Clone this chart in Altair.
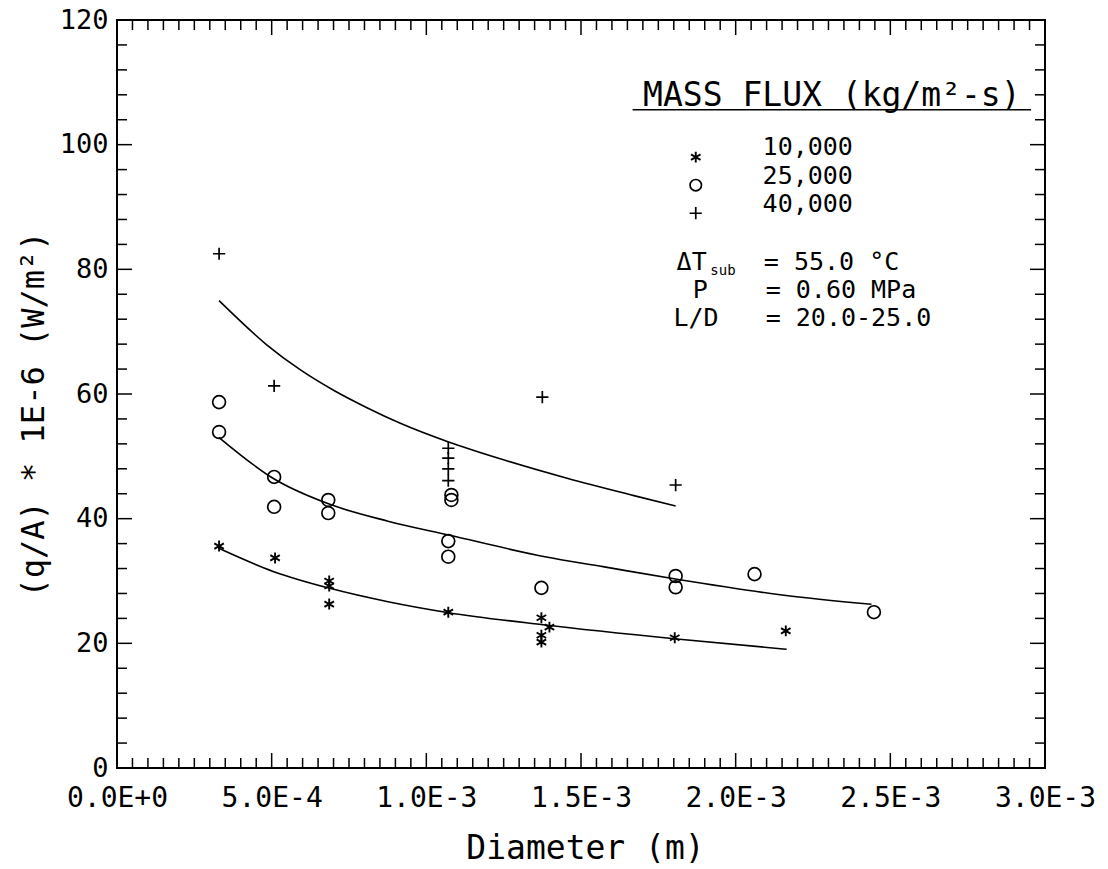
import altair as alt
import pandas as pd

FONT = "DejaVu Sans Mono"

# ---------------- data ----------------
# Mass flux 10,000 (asterisks)
d10 = [0.330e-3, 0.511e-3, 0.686e-3, 0.686e-3, 0.686e-3, 1.071e-3, 1.372e-3, 1.398e-3,
       1.372e-3, 1.372e-3, 1.803e-3, 2.162e-3]
q10 = [35.6, 33.7, 30.0, 29.2, 26.3, 25.0, 24.1, 22.6, 21.3, 20.2, 20.9, 22.0]

# Mass flux 25,000 (circles)
d25 = [0.330e-3, 0.330e-3, 0.508e-3, 0.508e-3, 0.683e-3, 0.683e-3, 1.081e-3, 1.081e-3,
       1.071e-3, 1.071e-3, 1.372e-3, 1.806e-3, 1.806e-3, 2.061e-3, 2.447e-3]
q25 = [58.7, 53.9, 46.7, 41.9, 43.0, 40.9, 43.8, 43.0, 36.4, 33.9, 28.9, 30.8, 29.0, 31.1, 25.0]

# Mass flux 40,000 (plus signs)
d40 = [0.330e-3, 0.508e-3, 1.071e-3, 1.071e-3, 1.071e-3, 1.071e-3, 1.375e-3, 1.806e-3]
q40 = [82.5, 61.3, 51.3, 49.7, 48.0, 46.1, 59.5, 45.4]

# fitted curves
c10_d = [0.329e-3, 0.507e-3, 0.688e-3, 0.876e-3, 1.072e-3, 1.383e-3, 1.810e-3, 2.165e-3]
c10_q = [35.25, 31.50, 28.83, 26.68, 24.92, 22.94, 20.70, 19.05]

c25_d = [0.329e-3, 0.507e-3, 0.688e-3, 0.876e-3, 1.072e-3, 1.383e-3, 1.571e-3, 1.810e-3,
         2.150e-3, 2.439e-3]
c25_q = [53.06, 46.40, 42.30, 39.60, 37.38, 33.90, 32.30, 30.27, 27.76, 26.26]

c40_d = [0.330e-3, 0.484e-3, 0.592e-3, 0.700e-3, 0.808e-3, 0.916e-3, 1.072e-3, 1.239e-3,
         1.455e-3, 1.671e-3, 1.806e-3]
c40_q = [74.97, 67.90, 63.90, 60.60, 57.80, 55.30, 52.30, 49.60, 46.48, 43.70, 42.03]

series_labels = ["10,000", "25,000", "40,000"]
legend_title = "MASS FLUX (kg/m²-s)"
cond_left = ["ΔT", "P", "L/D"]
cond_right = ["= 55.0 °C", "= 0.60 MPa", "= 20.0-25.0"]

x_major = [0.0, 0.5e-3, 1.0e-3, 1.5e-3, 2.0e-3, 2.5e-3, 3.0e-3]
y_major = [0, 20, 40, 60, 80, 100, 120]
x_minor = [i * 0.05e-3 for i in range(1, 60) if i % 10 != 0]
y_minor = [v for v in range(4, 120, 4) if v % 20 != 0]

# ---------------- layout ----------------
W, H = 928, 748
XS = alt.Scale(domain=[0, 0.003], nice=False, zero=False)
YS = alt.Scale(domain=[0, 120], nice=False, zero=False)

XAX = alt.Axis(
    values=x_major, ticks=False, domain=False, grid=False,
    labelExpr="replace(replace(upper(format(datum.value, '.1e')), '\u2212', '-'), 'E-0', 'E-')",
    labelFont=FONT, labelFontSize=28, labelColor="black", labelPadding=16,
    labelFlush=False, labelOverlap=False,
    title="Diameter (m)", titleFont=FONT, titleFontSize=33, titleFontWeight="normal",
    titleColor="black", titleX=468, titleY=80, titleBaseline="middle")
YAX = alt.Axis(
    values=y_major, ticks=False, domain=False, grid=False,
    labelFont=FONT, labelFontSize=27, labelColor="black", labelPadding=9,
    labelFlush=False, labelOverlap=False,
    title="(q/A) * 1E-6 (W/m²)", titleFont=FONT, titleFontSize=32,
    titleFontWeight="normal", titleColor="black", titleX=-84, titleY=H / 2 + 20,
    titleBaseline="middle", titleAngle=270)


def X(field):
    return alt.X(field, scale=XS, axis=XAX)


def Y(field):
    return alt.Y(field, scale=YS, axis=YAX)


ASTER = "M0,-1L0,1M-0.87,-0.5L0.87,0.5M-0.87,0.5L0.87,-0.5"
PLUS = "M-1,0L1,0M0,-1L0,1"


def pts(d, q, shape, size, sw=1.7):
    df = pd.DataFrame({"D": d, "q": q})
    return alt.Chart(df).mark_point(shape=shape, filled=False, color="black",
                                    strokeWidth=sw, size=size, opacity=1).encode(
        x=X("D:Q"), y=Y("q:Q"))


def curve(d, q):
    df = pd.DataFrame({"D": d, "q": q})
    return alt.Chart(df).mark_line(color="black", strokeWidth=1.6,
                                   interpolate="monotone").encode(
        x=X("D:Q"), y=Y("q:Q"))


# inward ticks
xmaj_df = pd.DataFrame({"v": x_major[1:-1]})
xmin_df = pd.DataFrame({"v": x_minor})
ymaj_df = pd.DataFrame({"v": y_major[1:-1]})
ymin_df = pd.DataFrame({"v": y_minor})


def xticks(df, L):
    out = []
    for yy in (H - L / 2, L / 2):
        out.append(alt.Chart(df).mark_tick(orient="vertical", size=L, thickness=1.5,
                                           color="black", opacity=1).encode(
            x=X("v:Q"), y=alt.value(yy)))
    return out


def yticks(df, L):
    out = []
    for xx in (L / 2, W - L / 2):
        out.append(alt.Chart(df).mark_tick(orient="horizontal", size=L, thickness=1.5,
                                           color="black", opacity=1).encode(
            y=Y("v:Q"), x=alt.value(xx)))
    return out


ticks = xticks(xmin_df, 10) + xticks(xmaj_df, 15) + yticks(ymin_df, 10) + yticks(ymaj_df, 15)


# ---------------- annotation (legend block) ----------------
def txt(df, size, align="left"):
    return alt.Chart(df).mark_text(font=FONT, fontSize=size, align=align, baseline="middle",
                                   color="black").encode(
        x=X("D:Q"), y=Y("q:Q"), text="t:N")


title_df = pd.DataFrame({"D": [2.311e-3], "q": [107.8], "t": [legend_title]})
underline_df = pd.DataFrame({"D": [1.667e-3], "D2": [2.955e-3], "q": [105.6]})
underline = alt.Chart(underline_df).mark_rule(color="black", strokeWidth=1.6).encode(
    x=X("D:Q"), x2="D2:Q", y=Y("q:Q"))

lab_df = pd.DataFrame({"D": [2.087e-3] * 3, "q": [99.6, 95.0, 90.5], "t": series_labels})
sym_x = 1.871e-3
sym_q = [98.0, 93.5, 89.0]

condL_df = pd.DataFrame({"D": [1.809e-3, 1.861e-3, 1.799e-3], "q": [81.2, 76.7, 72.2],
                         "t": cond_left})
sub_df = pd.DataFrame({"D": [1.918e-3], "q": [79.8], "t": ["sub"]})
condR_df = pd.DataFrame({"D": [2.091e-3, 2.097e-3, 2.097e-3], "q": [81.2, 76.7, 72.2],
                         "t": cond_right})

layers = [
    curve(c10_d, c10_q), curve(c25_d, c25_q), curve(c40_d, c40_q),
    pts(d10, q10, ASTER, 120, 1.9), pts(d25, q25, "circle", 165), pts(d40, q40, PLUS, 150),
    pts([sym_x], [sym_q[0]], ASTER, 120, 1.9), pts([sym_x], [sym_q[1]], "circle", 130),
    pts([sym_x], [sym_q[2]], PLUS, 150),
    txt(title_df, 33, "center"), underline, txt(lab_df, 25),
    txt(condL_df, 25), txt(sub_df, 14), txt(condR_df, 25),
] + ticks

chart = alt.layer(*layers).properties(
    width=W, height=H,
    background="white",
    autosize=alt.AutoSizeParams(type="none"),
    padding={"left": 117, "top": 20, "right": 63, "bottom": 101},
).configure_view(stroke="black", strokeWidth=2)

chart.save("out.html", embed_options={"renderer": "svg", "actions": False})
